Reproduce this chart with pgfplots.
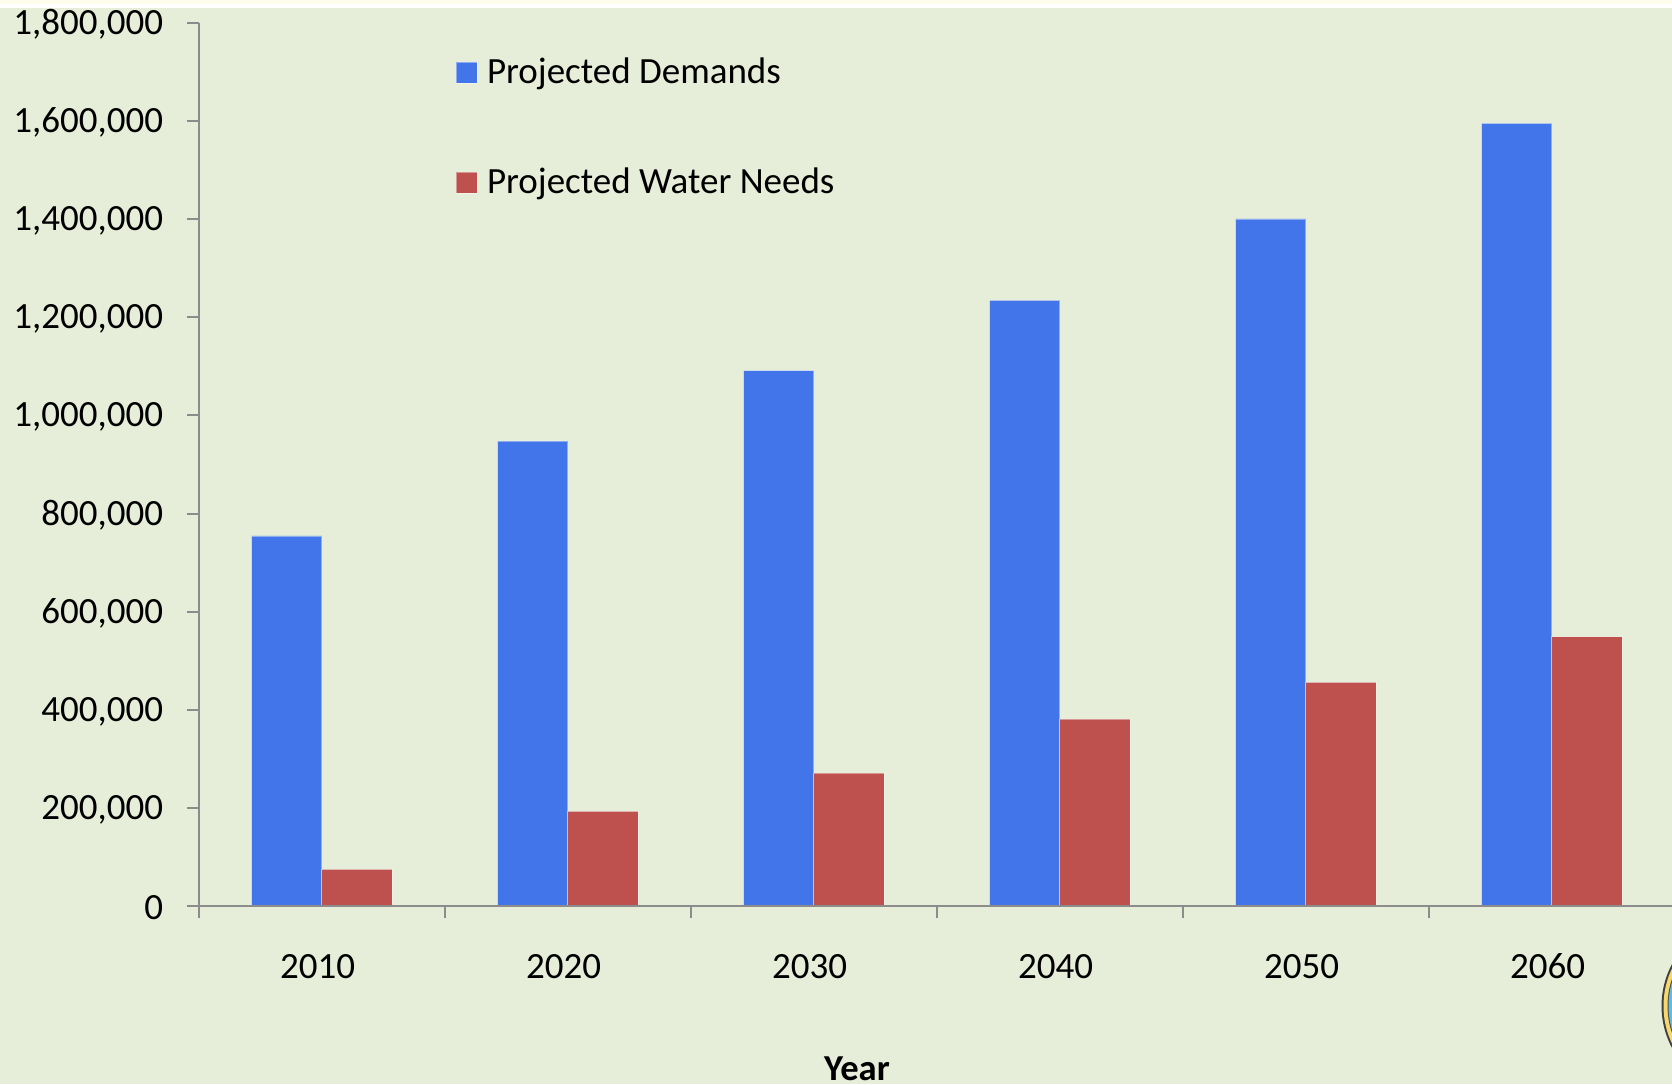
\documentclass[border=0pt]{standalone}
\usepackage{pgfplots}
\pgfplotsset{compat=1.18}
\usepackage{fontspec}
\setmainfont{Carlito}
\definecolor{panel}{HTML}{E6EDD8}
\definecolor{axisgray}{HTML}{8C8C8C}
\definecolor{demand}{HTML}{4175E9}
\definecolor{needs}{HTML}{BE504E}
\definecolor{sealgold}{HTML}{F5D76E}
\definecolor{sealblue}{HTML}{5CBDE8}
% x = 1px = 0.5pt, y from the top of the page
\begin{document}
\begin{tikzpicture}[x=0.5pt,y=-0.5pt]
\useasboundingbox (0,0) rectangle (1672,1084);
\fill[white] (0,0) rectangle (1672,8);
\fill[black!5!yellow!8!white] (0,0) rectangle (1672,3.5);
\fill[panel] (0,8) rectangle (1672,1084);
\begin{scope}
\clip (0,0) rectangle (1672,1084);
\fill[black!75] (1750.5,1006) circle (89);
\fill[sealgold] (1750.5,1006) circle (87);
\fill[black!70] (1750.5,1006) circle (83);
\fill[sealblue] (1750.5,1006) circle (82);
\end{scope}
\begin{axis}[
  at={(198.8pt*0.5,-906.2pt*0.5)},anchor=origin,
  scale only axis,
  width=736.75pt,height=441.75pt,
  xmin=0,xmax=5.99,
  ymin=0,ymax=1800000,
  axis y line*=left,axis x line*=bottom,
  axis line style={draw=axisgray,line width=1pt,-},
  tick style={draw=axisgray,line width=1pt},
  axis on top,
  clip=false,
  xtick={0,1,2,3,4,5},
  xticklabels={},
  extra x ticks={0.483,1.483,2.483,3.483,4.483,5.483},
  extra x tick labels={2010,2020,2030,2040,2050,2060},
  extra x tick style={major tick length=0pt,tick label style={yshift=-23.6pt,text height=9pt,text depth=0pt}},
  ytick={0,200000,400000,600000,800000,1000000,1200000,1400000,1600000,1800000},
  major tick length=6pt,
  tick align=outside,
  xtick pos=lower,ytick pos=left,
  scaled y ticks=false,
  /pgf/number format/assume math mode=true,
  /pgf/number format/1000 sep={,},
  yticklabel style={/pgf/number format/fixed,xshift=-8.3pt,yshift=-0.8pt},
  tick label style={font=\fontsize{18.5}{20}\selectfont,text=black},
  xlabel={\textbf{Year}},
  xlabel style={font=\fontsize{18.3}{20}\selectfont,at={(axis description cs:0.4467,0)},anchor=base,yshift=-87pt},
  ybar=0pt,bar width=35.1pt,
  legend style={draw=none,fill=none,at={(128.3pt,426.3pt)},anchor=north west,
    font=\fontsize{18.5}{20}\selectfont,row sep=36.7pt,inner sep=0pt,
    /tikz/every odd column/.append style={column sep=2.8pt}},
  legend cell align=left,
  legend image code/.code={\fill[#1] (0pt,-5.25pt) rectangle (10.5pt,5.25pt);},
]
\addplot[fill=demand,draw=white,draw opacity=0.4,line width=0.3pt] coordinates {(0.5,754500) (1.5,947700) (2.5,1091000) (3.5,1234400) (4.5,1400500) (5.5,1594800)};
\addplot[fill=needs,draw=white,draw opacity=0.4,line width=0.3pt] coordinates {(0.5,75000) (1.5,193000) (2.5,271000) (3.5,381000) (4.5,456000) (5.5,549000)};
\legend{Projected Demands,Projected Water Needs}
\end{axis}
\end{tikzpicture}
\end{document}
